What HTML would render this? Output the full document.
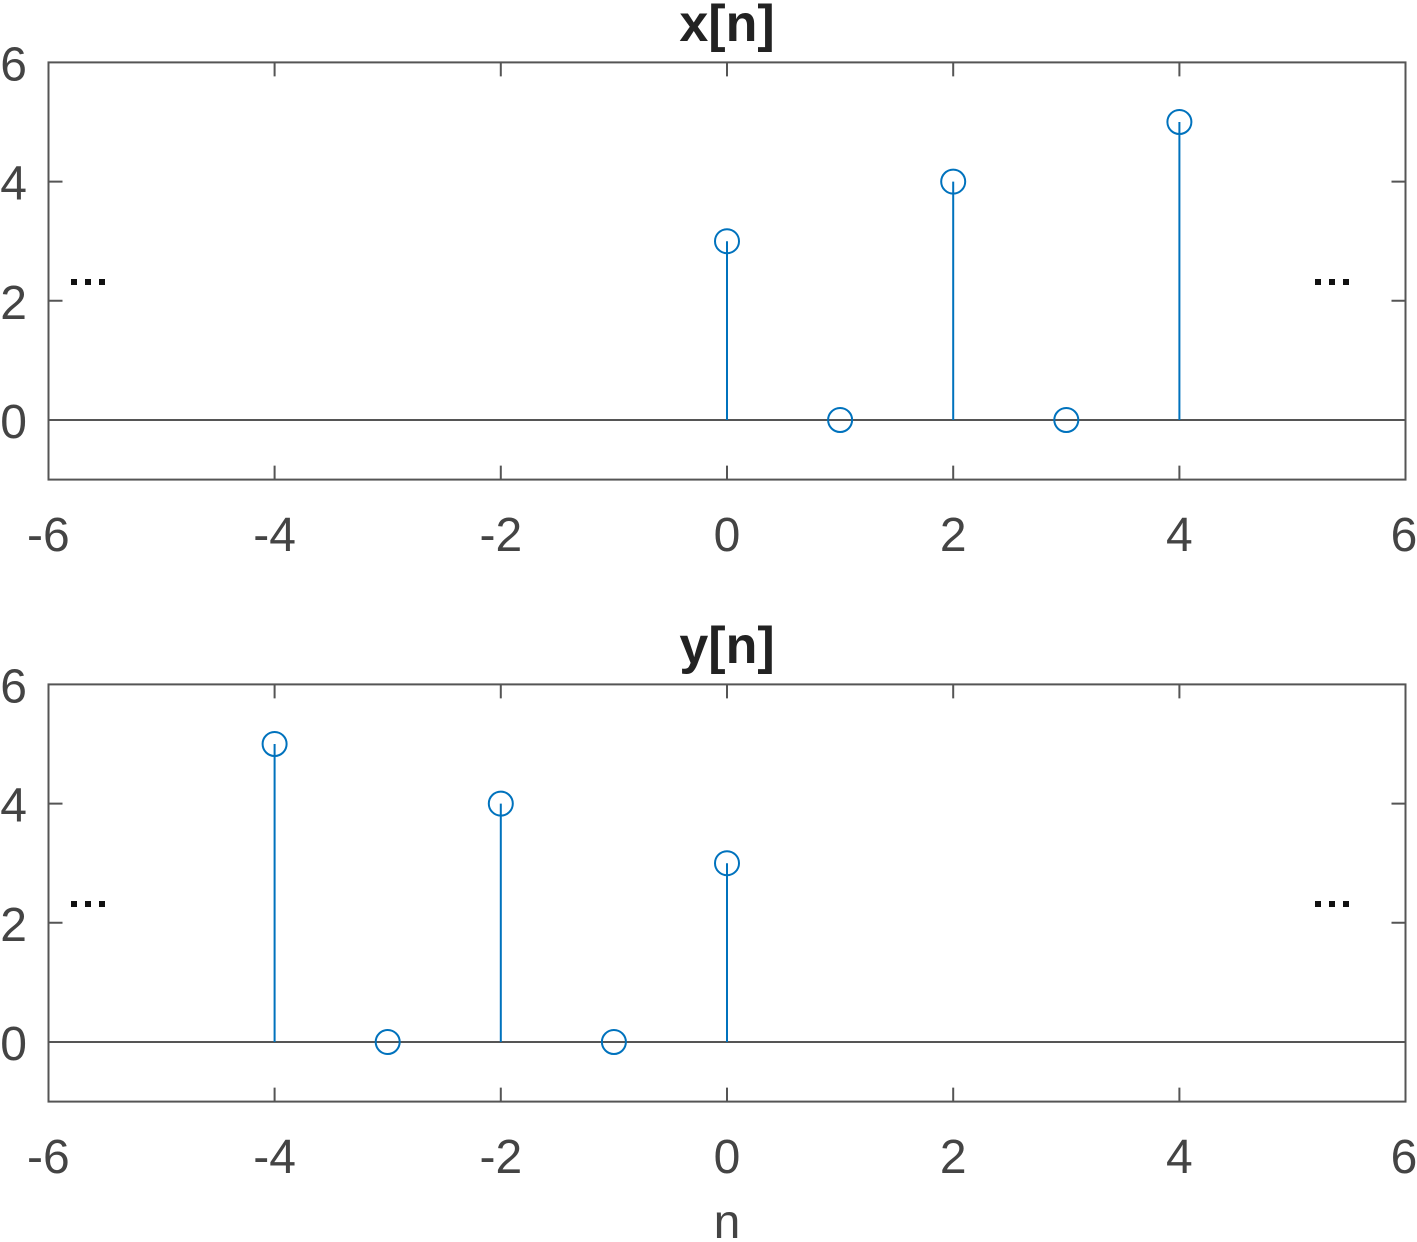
<!DOCTYPE html>
<html><head><style>body{margin:0;background:#fff}svg{display:block}</style></head>
<body>
<svg width="1417" height="1242" xmlns="http://www.w3.org/2000/svg" font-family="Liberation Sans, sans-serif">
<g>
<text x="727" y="41" text-anchor="middle" font-size="52" font-weight="bold" fill="#222">x[n]</text>
<g stroke="#555" stroke-width="2" fill="none">
<line x1="48.5" y1="420" x2="1405.5" y2="420"/>
<rect x="48.5" y="62.4" width="1357" height="417.2"/>
<path d="M274.6 479.6v-14M500.8 479.6v-14M727 479.6v-14M953.2 479.6v-14M1179.4 479.6v-14M274.6 62.4v14M500.8 62.4v14M727 62.4v14M953.2 62.4v14M1179.4 62.4v14M48.5 420h14M48.5 300.8h14M48.5 181.6h14M1405.5 420h-14M1405.5 300.8h-14M1405.5 181.6h-14"/>
</g>
<g font-size="48" fill="#444" text-anchor="middle">
<text x="48.4" y="551">-6</text><text x="274.6" y="551">-4</text><text x="500.8" y="551">-2</text><text x="727" y="551">0</text><text x="953.2" y="551">2</text><text x="1179.4" y="551">4</text><text x="1404" y="551">6</text>
</g>
<g font-size="48" fill="#444" text-anchor="end">
<text x="27" y="438">0</text><text x="27" y="318.8">2</text><text x="27" y="199.6">4</text><text x="27" y="80.4">6</text>
</g>
<g stroke="#0072BD" stroke-width="2" fill="none">
<path d="M727 420V241.2M953.2 420V181.6M1179.4 420V122"/>
<circle cx="727" cy="241.2" r="12"/><circle cx="840.1" cy="420" r="12"/><circle cx="953.2" cy="181.6" r="12"/><circle cx="1066.3" cy="420" r="12"/><circle cx="1179.4" cy="122" r="12"/>
</g>
<g fill="#111">
<rect x="71" y="279" width="6" height="6"/><rect x="85" y="279" width="6" height="6"/><rect x="99" y="279" width="6" height="6"/>
<rect x="1315" y="279" width="6" height="6"/><rect x="1329" y="279" width="6" height="6"/><rect x="1343" y="279" width="6" height="6"/>
</g>
</g>

<g transform="translate(0,622)">
<text x="727" y="41" text-anchor="middle" font-size="52" font-weight="bold" fill="#222">y[n]</text>
<g stroke="#555" stroke-width="2" fill="none">
<line x1="48.5" y1="420" x2="1405.5" y2="420"/>
<rect x="48.5" y="62.4" width="1357" height="417.2"/>
<path d="M274.6 479.6v-14M500.8 479.6v-14M727 479.6v-14M953.2 479.6v-14M1179.4 479.6v-14M274.6 62.4v14M500.8 62.4v14M727 62.4v14M953.2 62.4v14M1179.4 62.4v14M48.5 420h14M48.5 300.8h14M48.5 181.6h14M1405.5 420h-14M1405.5 300.8h-14M1405.5 181.6h-14"/>
</g>
<g font-size="48" fill="#444" text-anchor="middle">
<text x="48.4" y="551">-6</text><text x="274.6" y="551">-4</text><text x="500.8" y="551">-2</text><text x="727" y="551">0</text><text x="953.2" y="551">2</text><text x="1179.4" y="551">4</text><text x="1404" y="551">6</text>
</g>
<g font-size="48" fill="#444" text-anchor="end">
<text x="27" y="438">0</text><text x="27" y="318.8">2</text><text x="27" y="199.6">4</text><text x="27" y="80.4">6</text>
</g>
<g stroke="#0072BD" stroke-width="2" fill="none">
<path d="M274.6 420V122M500.8 420V181.6M727 420V241.2"/>
<circle cx="274.6" cy="122" r="12"/><circle cx="387.7" cy="420" r="12"/><circle cx="500.8" cy="181.6" r="12"/><circle cx="613.9" cy="420" r="12"/><circle cx="727" cy="241.2" r="12"/>
</g>
<g fill="#111">
<rect x="71" y="279" width="6" height="6"/><rect x="85" y="279" width="6" height="6"/><rect x="99" y="279" width="6" height="6"/>
<rect x="1315" y="279" width="6" height="6"/><rect x="1329" y="279" width="6" height="6"/><rect x="1343" y="279" width="6" height="6"/>
</g>
</g>
<text x="727" y="1238" text-anchor="middle" font-size="48" fill="#444">n</text>
</svg>
</body></html>
